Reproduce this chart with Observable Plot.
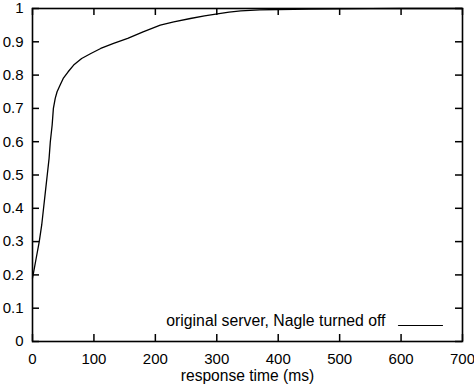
<!DOCTYPE html>
<html>
<head>
<meta charset="utf-8">
<script src="https://cdn.jsdelivr.net/npm/d3@7"></script>
<script src="https://cdn.jsdelivr.net/npm/@observablehq/plot@0.6"></script>
<style>
  html, body { margin: 0; padding: 0; background: #fff; }
  #chart svg { display: block; }
</style>
</head>
<body>
<div id="chart"></div>
<script>
const responseTime = [0, 2, 6, 11, 15, 18, 21, 24, 27, 29, 32, 34, 37, 40, 45, 50, 58, 67, 80, 95, 111, 132, 155, 180, 208, 230, 257, 280, 301, 320, 339, 370, 400, 450, 500, 550, 600, 650, 700];
const cdfValue = [0.19, 0.21, 0.25, 0.30, 0.35, 0.40, 0.45, 0.50, 0.55, 0.60, 0.65, 0.70, 0.73, 0.75, 0.77, 0.79, 0.81, 0.83, 0.85, 0.865, 0.88, 0.895, 0.91, 0.93, 0.95, 0.96, 0.97, 0.978, 0.984, 0.989, 0.993, 0.996, 0.997, 0.998, 0.999, 0.9995, 1, 1, 1];
const xTicks = [0, 100, 200, 300, 400, 500, 600, 700];
const yTicks = [0, 0.1, 0.2, 0.3, 0.4, 0.5, 0.6, 0.7, 0.8, 0.9, 1];
const seriesLabel = "original server, Nagle turned off";
const xLabel = "response time (ms)";

const W = 474, H = 390, ML = 32, MR = 12, MT = 8, MB = 49;
const FW = W - ML - MR, FH = H - MT - MB, TL = 7;

const data = responseTime.map((t, i) => ({t, v: cdfValue[i]}));
const fmtY = d => String(+d.toFixed(1));
const seg = {draw(ctx, l) { ctx.moveTo(0, 0); ctx.lineTo(0, -l); }};
const tk = {stroke: "#000", strokeWidth: 1.5};

const chart = Plot.plot({
  width: W,
  height: H,
  marginLeft: ML,
  marginRight: MR,
  marginTop: MT,
  marginBottom: MB,
  style: {fontFamily: "'Liberation Sans', Arial, sans-serif", fontSize: "15px", color: "#000", background: "#fff", overflow: "visible"},
  x: {domain: [0, 700]},
  y: {domain: [0, 1]},
  marks: [
    Plot.axisX(xTicks, {tickSize: 0, tickPadding: 12, label: null, fontSize: 15}),
    Plot.axisY(yTicks, {tickSize: 0, tickPadding: 9, tickFormat: fmtY, label: null, fontSize: 15}),
    Plot.tickX(xTicks, {x: d => d, insetTop: FH - TL, ...tk}),
    Plot.tickX(xTicks, {x: d => d, insetBottom: FH - TL, ...tk}),
    Plot.tickY(yTicks, {y: d => d, insetRight: FW - TL, ...tk}),
    Plot.tickY(yTicks, {y: d => d, insetLeft: FW - TL, ...tk}),
    Plot.frame({stroke: "#000", strokeWidth: 1.6}),
    Plot.line(data, {x: "t", y: "v", stroke: "#000", strokeWidth: 1.3}),
    Plot.text([seriesLabel], {frameAnchor: "bottom-right", text: d => d, textAnchor: "end", dx: -77, dy: -16, fontSize: 15.8, fill: "#000"}),
    Plot.vector([seriesLabel], {frameAnchor: "bottom-right", dx: -64, dy: -16, rotate: 90, length: 44, anchor: "start", stroke: "#000", strokeWidth: 1.2, shape: seg}),
    Plot.text([xLabel], {frameAnchor: "bottom", text: d => d, dy: 39, fontSize: 15.6, fill: "#000"})
  ]
});
document.getElementById("chart").appendChild(chart);
</script>
</body>
</html>
